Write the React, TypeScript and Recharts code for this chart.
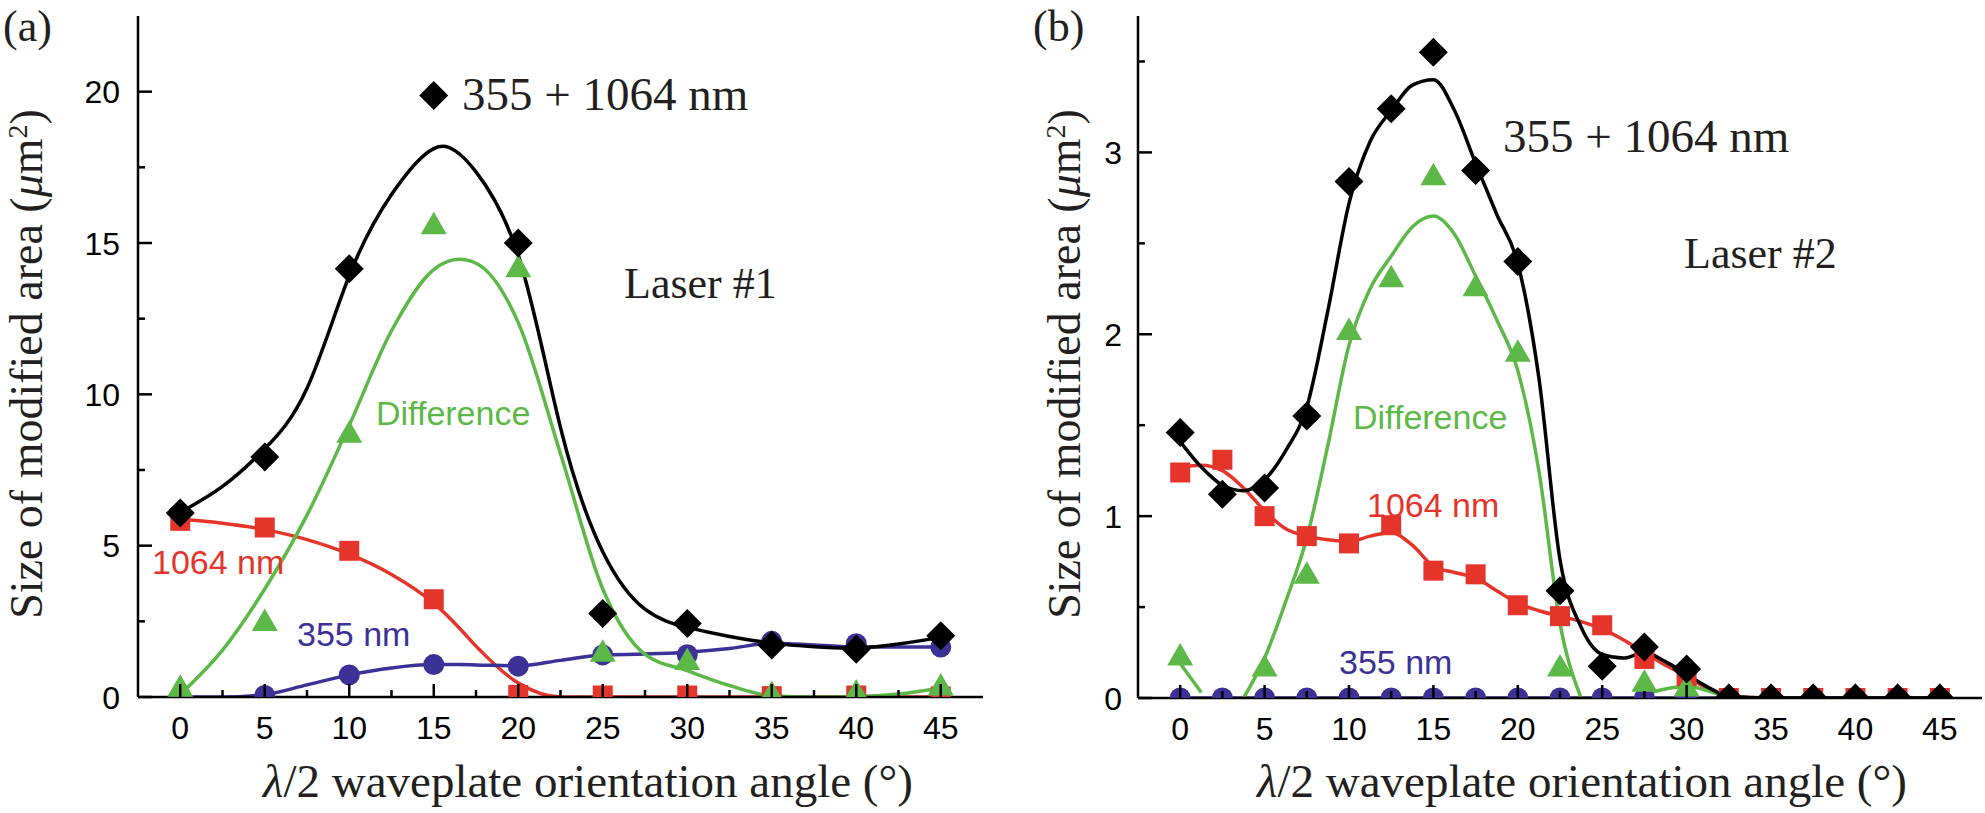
import React from 'react';
import { LineChart, Line, XAxis, YAxis } from 'recharts';

const SERIF = "'Liberation Serif', 'Times New Roman', serif";
const SANS = "'Liberation Sans', Arial, Helvetica, sans-serif";

const RED = '#e5352b';
const GREEN = '#5cb847';
const BLUE = '#3b3196';
const BLACK = '#000000';

// ticks (minor every 2.5 deg / 2.5 / 0.5 units)
const xTicks = [0, 2.5, 5, 7.5, 10, 12.5, 15, 17.5, 20, 22.5, 25, 27.5, 30, 32.5, 35, 37.5, 40, 42.5, 45];
const yTicksA = [0, 2.5, 5, 7.5, 10, 12.5, 15, 17.5, 20];
const yTicksB = [0, 0.5, 1, 1.5, 2, 2.5, 3, 3.5];

// ---- panel (a), laser #1: measured points
const anglesA = [0, 5, 10, 15, 20, 25, 30, 35, 40, 45];
const sumA = [6.08, 7.93, 14.15, 19.87, 15.0, 2.76, 2.43, 1.72, 1.58, 2.02];
const ir1064A = [5.82, 5.6, 4.83, 3.23, 0.07, 0.05, 0.05, 0.03, 0.05, 0.02];
const uv355A = [0, 0.05, 0.73, 1.07, 1.02, 1.39, 1.4, 1.84, 1.76, 1.65];
const diffA = [0.26, 2.43, 8.65, 15.54, 14.12, 1.41, 1.14, 0.05, 0.1, 0.3];

// panel (a): fitted curves
const fitXA = [0, 2.5, 5, 7.5, 10, 12.5, 15, 16.5, 17.5, 20, 22.5, 25, 27.5, 30, 32.5, 35, 37.5, 40, 42.5, 45];
const sumFitA = [6.1, 6.96, 8.2, 10.2, 13.92, 16.6, 18.12, 17.95, 17.35, 14.6, 8.9, 4.8, 2.9, 2.3, 2.0, 1.78, 1.66, 1.62, 1.75, 1.97];
const irFitA = [5.87, 5.74, 5.53, 5.2, 4.72, 4.05, 3.1, 2.29, 1.68, 0.46, 0, 0, 0, 0, 0, 0, 0, 0, 0, 0];
const uvFitA = [0, 0, 0.08, 0.4, 0.73, 0.96, 1.07, 1.07, 1.06, 1.03, 1.21, 1.39, 1.42, 1.48, 1.6, 1.78, 1.72, 1.65, 1.65, 1.66];
const diffFitA = [0.09, 1.55, 3.57, 6.01, 8.98, 12.1, 14.12, 14.46, 14.33, 12.37, 8.04, 3.57, 1.41, 0.87, 0.38, 0.04, 0, 0.02, 0.1, 0.3];

// ---- panel (b), laser #2: measured points
const anglesB = [0, 2.5, 5, 7.5, 10, 12.5, 15, 17.5, 20, 22.5, 25, 27.5, 30, 32.5, 35, 37.5, 40, 42.5, 45];
const sumB = [1.46, 1.12, 1.155, 1.55, 2.84, 3.24, 3.55, 2.9, 2.4, 0.59, 0.175, 0.28, 0.16, 0, 0, 0, 0, 0, 0];
const ir1064B = [1.24, 1.31, 1.0, 0.89, 0.85, 0.95, 0.7, 0.68, 0.51, 0.45, 0.4, 0.215, 0.12, 0, 0, 0, 0, 0, 0];
const uv355B = [0, 0, 0, 0, 0, 0, 0, 0, 0, 0, 0, 0, 0, 0, 0, 0, 0, 0, 0];
const diffB = [0.22, null, 0.16, 0.67, 2.01, 2.3, 2.86, 2.25, 1.89, 0.16, null, 0.075, 0.05, 0, 0, 0, 0, 0, 0];

// panel (b): fitted curves
const fitXB = [0, 1.25, 2.5, 3.75, 5, 6.25, 7.5, 8.75, 10, 11.25, 12.5, 13.75, 15, 16.25, 17.5, 18.75, 20, 21.25, 22.5, 23.75, 25, 26.25, 27.5, 28.75, 30, 31.25, 32.5, 35, 37.5, 40, 42.5, 45];
const sumFitB = [1.41, 1.27, 1.17, 1.14, 1.2, 1.36, 1.6, 2.13, 2.72, 3.06, 3.23, 3.37, 3.4, 3.23, 2.94, 2.66, 2.39, 1.76, 0.76, 0.39, 0.24, 0.22, 0.25, 0.2, 0.13, 0.06, 0.01, 0, 0, 0, 0, 0];
const irFitB = [1.27, 1.28, 1.25, 1.155, 1.03, 0.93, 0.89, 0.87, 0.86, 0.89, 0.91, 0.84, 0.725, 0.69, 0.66, 0.59, 0.52, 0.48, 0.45, 0.42, 0.38, 0.32, 0.25, 0.18, 0.12, 0.05, 0.01, 0, 0, 0, 0, 0];
const uvFitB = [0, 0, 0, 0, 0, 0, 0, 0, 0, 0, 0, 0, 0, 0, 0, 0, 0, 0, 0, 0, 0, 0, 0, 0, 0, 0, 0, 0, 0, 0, 0, 0];
const diffFitB = [0.19, 0.03, null, 0, 0.22, 0.53, 0.88, 1.39, 1.94, 2.25, 2.43, 2.59, 2.65, 2.55, 2.32, 2.08, 1.8, 1.25, 0.41, 0, null, null, 0.02, 0.05, 0.065, 0.04, 0, null, null, null, null, null];

type Pt = { x: number; y: number | null };
const toPts = (xs: number[], ys: (number | null)[]): Pt[] => xs.map((x, i) => ({ x, y: ys[i] }));

const marker = (shape: string, color: string) => (p: any) => {
  const { cx, cy, index } = p;
  const key = `m-${index}`;
  if (cx == null || cy == null || p.value == null) return <g key={key} />;
  if (shape === 'diamond') {
    const d = 14.5;
    return <polygon key={key} points={`${cx},${cy - d} ${cx + d},${cy} ${cx},${cy + d} ${cx - d},${cy}`} fill={color} />;
  }
  if (shape === 'square') return <rect key={key} x={cx - 10} y={cy - 10} width={20} height={20} fill={color} />;
  if (shape === 'circle') return <circle key={key} cx={cx} cy={cy} r={10.5} fill={color} />;
  return <polygon key={key} points={`${cx},${cy - 15} ${cx + 13},${cy + 7.5} ${cx - 13},${cy + 7.5}`} fill={color} />;
};

const XTick = (props: any) => {
  const { x, y, payload } = props;
  const major = payload.value % 5 === 0;
  return (
    <g>
      <line x1={x} x2={x} y1={y} y2={y - (major ? 13 : 7)} stroke="#000" strokeWidth={2.5} />
      {major && (
        <text x={x} y={y + 42} textAnchor="middle" fontFamily={SANS} fontSize={32} fill="#000">
          {payload.value}
        </text>
      )}
    </g>
  );
};

const makeYTick = (step: number, gap: number) => (props: any) => {
  const { x, y, payload } = props;
  const v = payload.value;
  const major = Math.abs(v / step - Math.round(v / step)) < 1e-6;
  return (
    <g>
      <line x1={x} x2={x + (major ? 14 : 7)} y1={y} y2={y} stroke="#000" strokeWidth={2.5} />
      {major && (
        <text x={x - gap} y={y + 11.5} textAnchor="end" fontFamily={SANS} fontSize={32} fill="#000">
          {v}
        </text>
      )}
    </g>
  );
};

interface Series {
  name: string;
  color: string;
  shape: string;
  curve: 'monotone' | 'natural';
  fit: Pt[];
  pts: Pt[];
}

interface PanelProps {
  left: number;
  yMax: number;
  yTicks: number[];
  yStep: number;
  yGap: number;
  yAxisWidth: number;
  xAxisHeight: number;
  marginRight: number;
  series: Series[];
}

function Panel({ left, yMax, yTicks, yStep, yGap, yAxisWidth, xAxisHeight, marginRight, series }: PanelProps) {
  const axisLine = { stroke: '#000', strokeWidth: 2.5 };
  const items = series.flatMap((s) => [
    <Line
      key={`${s.name}-fit`}
      data={s.fit}
      dataKey="y"
      type={s.curve}
      stroke={s.color}
      strokeWidth={3.5}
      dot={false}
      activeDot={false}
      connectNulls={false}
      isAnimationActive={false}
    />,
    <Line
      key={`${s.name}-pts`}
      data={s.pts}
      dataKey="y"
      stroke="none"
      dot={marker(s.shape, s.color)}
      activeDot={false}
      isAnimationActive={false}
    />,
  ]);
  return (
    <div style={{ position: 'absolute', left, top: 0 }}>
      <LineChart width={990} height={813} margin={{ top: 16, right: marginRight, bottom: 0, left: 0 }}>
        <XAxis
          type="number"
          dataKey="x"
          domain={[-2.5, 47.5]}
          ticks={xTicks}
          interval={0}
          tickSize={0}
          tickMargin={0}
          tickLine={false}
          tick={XTick}
          axisLine={axisLine}
          height={xAxisHeight}
          allowDataOverflow
        />
        <XAxis xAxisId="top" orientation="top" type="number" domain={[-2.5, 47.5]} height={0} tick={false} tickLine={false} axisLine={axisLine} />
        <YAxis
          type="number"
          domain={[0, yMax]}
          ticks={yTicks}
          interval={0}
          tickSize={0}
          tickMargin={0}
          tickLine={false}
          tick={makeYTick(yStep, yGap)}
          axisLine={axisLine}
          width={yAxisWidth}
          allowDataOverflow
        />
        <YAxis yAxisId="right" orientation="right" type="number" domain={[0, yMax]} width={0} tick={false} tickLine={false} axisLine={axisLine} />
        {items}
      </LineChart>
    </div>
  );
}

const seriesA: Series[] = [
  { name: 'ir', color: RED, shape: 'square', curve: 'monotone', fit: toPts(fitXA, irFitA), pts: toPts(anglesA, ir1064A) },
  { name: 'uv', color: BLUE, shape: 'circle', curve: 'monotone', fit: toPts(fitXA, uvFitA), pts: toPts(anglesA, uv355A) },
  { name: 'diff', color: GREEN, shape: 'triangle', curve: 'monotone', fit: toPts(fitXA, diffFitA), pts: toPts(anglesA, diffA) },
  { name: 'sum', color: BLACK, shape: 'diamond', curve: 'natural', fit: toPts(fitXA, sumFitA), pts: toPts(anglesA, sumA) },
];

const seriesB: Series[] = [
  { name: 'ir', color: RED, shape: 'square', curve: 'monotone', fit: toPts(fitXB, irFitB), pts: toPts(anglesB, ir1064B) },
  { name: 'uv', color: BLUE, shape: 'circle', curve: 'monotone', fit: toPts(fitXB, uvFitB), pts: toPts(anglesB, uv355B) },
  { name: 'diff', color: GREEN, shape: 'triangle', curve: 'monotone', fit: toPts(fitXB, diffFitB), pts: toPts(anglesB, diffB) },
  { name: 'sum', color: BLACK, shape: 'diamond', curve: 'monotone', fit: toPts(fitXB, sumFitB), pts: toPts(anglesB, sumB) },
];

const XTitle = ({ cx }: { cx: number }) => (
  <text x={cx} y={797} textAnchor="middle" fontFamily={SERIF} fontSize={47} fill="#231f20">
    <tspan fontStyle="italic">λ</tspan>/2 waveplate orientation angle (°)
  </text>
);

const YTitle = ({ x }: { x: number }) => (
  <text x={x} y={364} transform={`rotate(-90, ${x}, 364)`} textAnchor="middle" fontFamily={SERIF} fontSize={46} fill="#231f20">
    Size of modified area (<tspan fontStyle="italic">μ</tspan>m
    <tspan dy={-15} fontSize={28}>2</tspan>
    <tspan dy={15}>)</tspan>
  </text>
);

export default function App() {
  return (
    <div style={{ position: 'absolute', left: 0, top: 0, width: 1985, height: 813, background: '#fff', overflow: 'hidden' }}>
      <Panel left={0} yMax={22.5} yTicks={yTicksA} yStep={5} yGap={18} yAxisWidth={138} xAxisHeight={116} marginRight={7} series={seriesA} />
      <Panel left={995} yMax={3.75} yTicks={yTicksB} yStep={1} yGap={16} yAxisWidth={143} xAxisHeight={115} marginRight={3} series={seriesB} />
      <svg width={1985} height={813} style={{ position: 'absolute', left: 0, top: 0, pointerEvents: 'none' }}>
        <text x={3} y={41} fontFamily={SERIF} fontSize={44} fill="#231f20">(a)</text>
        <text x={1033} y={41} fontFamily={SERIF} fontSize={44} fill="#231f20">(b)</text>
        <XTitle cx={588} />
        <XTitle cx={1582} />
        <YTitle x={42} />
        <YTitle x={1080} />
        <text x={462} y={110} fontFamily={SERIF} fontSize={47} fill="#231f20">355 + 1064 nm</text>
        <text x={624} y={298} fontFamily={SERIF} fontSize={44} fill="#231f20">Laser #1</text>
        <text x={376} y={425} fontFamily={SANS} fontSize={34} fill={GREEN}>Difference</text>
        <text x={152} y={574} fontFamily={SANS} fontSize={34} fill={RED}>1064 nm</text>
        <text x={297} y={646} fontFamily={SANS} fontSize={34} fill={BLUE}>355 nm</text>
        <text x={1503} y={152} fontFamily={SERIF} fontSize={47} fill="#231f20">355 + 1064 nm</text>
        <text x={1684} y={268} fontFamily={SERIF} fontSize={44} fill="#231f20">Laser #2</text>
        <text x={1353} y={429} fontFamily={SANS} fontSize={34} fill={GREEN}>Difference</text>
        <text x={1367} y={517} fontFamily={SANS} fontSize={34} fill={RED}>1064 nm</text>
        <text x={1339} y={674} fontFamily={SANS} fontSize={34} fill={BLUE}>355 nm</text>
      </svg>
    </div>
  );
}
